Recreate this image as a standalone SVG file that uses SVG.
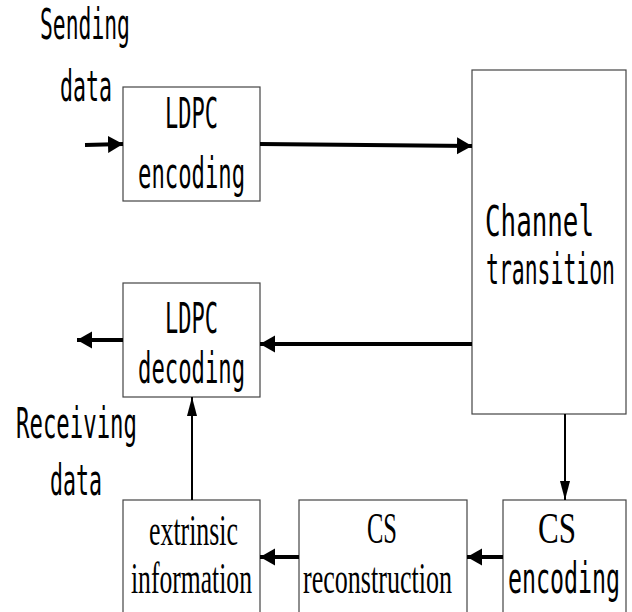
<svg xmlns="http://www.w3.org/2000/svg" width="632" height="612" viewBox="0 0 632 612">
<style>
.box{fill:#fff;stroke:#444;stroke-width:1.2}
.mono{font-family:"DejaVu Sans Mono","Liberation Mono",monospace;font-size:43px;fill:#000}
.serif{font-family:"Liberation Serif","Times New Roman",serif;font-size:45px;fill:#000}
.thick{stroke:#000;stroke-width:3.8;fill:none}
.thin{stroke:#000;stroke-width:2;fill:none}
</style>
<defs>
<marker id="ah" markerUnits="userSpaceOnUse" markerWidth="16" markerHeight="18" refX="15" refY="8.5" orient="auto">
<path d="M0,0 L15,8.5 L0,17 Z" fill="#000"/>
</marker>
<marker id="av" markerUnits="userSpaceOnUse" markerWidth="20" markerHeight="10" refX="19" refY="5" orient="auto">
<path d="M0,0 L19,5 L0,10 Z" fill="#000"/>
</marker>
</defs>
<rect width="632" height="612" fill="#fff"/>
<g id="label-sending">
<text class="mono" transform="translate(40,39) scale(0.52,1)" textLength="173" lengthAdjust="spacingAndGlyphs">Sending</text>
<text class="mono" transform="translate(60,101) scale(0.52,1)" textLength="100" lengthAdjust="spacingAndGlyphs">data</text>
</g>
<g id="label-receiving">
<text class="mono" transform="translate(16,438) scale(0.52,1)" textLength="232.7" lengthAdjust="spacingAndGlyphs">Receiving</text>
<text class="mono" transform="translate(50,495) scale(0.52,1)" textLength="100" lengthAdjust="spacingAndGlyphs">data</text>
</g>
<g id="ldpc-encoding">
<rect class="box" x="123" y="87" width="137" height="114"/>
<text class="mono" transform="translate(165,128) scale(0.52,1)" textLength="101.9" lengthAdjust="spacingAndGlyphs">LDPC</text>
<text class="mono" transform="translate(138,188) scale(0.52,1)" textLength="205.8" lengthAdjust="spacingAndGlyphs">encoding</text>
</g>
<g id="channel-transition">
<rect class="box" x="472" y="70" width="154" height="344"/>
<text class="mono" transform="translate(485,236) scale(0.52,1)" textLength="209.6" lengthAdjust="spacingAndGlyphs">Channel</text>
<text class="mono" transform="translate(486,284) scale(0.52,1)" textLength="248.1" lengthAdjust="spacingAndGlyphs">transition</text>
</g>
<g id="ldpc-decoding">
<rect class="box" x="123" y="283" width="137" height="114"/>
<text class="mono" transform="translate(165,333) scale(0.52,1)" textLength="101.9" lengthAdjust="spacingAndGlyphs">LDPC</text>
<text class="mono" transform="translate(138,383) scale(0.52,1)" textLength="205.8" lengthAdjust="spacingAndGlyphs">decoding</text>
</g>
<g id="extrinsic-information">
<rect class="box" x="123" y="500" width="137" height="130"/>
<text class="serif" transform="translate(149,545) scale(0.58,1)" textLength="153.4" lengthAdjust="spacingAndGlyphs">extrinsic</text>
<text class="serif" transform="translate(131,593) scale(0.58,1)" textLength="208.6" lengthAdjust="spacingAndGlyphs">information</text>
</g>
<g id="cs-reconstruction">
<rect class="box" x="299" y="500" width="168" height="130"/>
<text class="serif" transform="translate(367,543) scale(0.58,1)" textLength="51.7" lengthAdjust="spacingAndGlyphs">CS</text>
<text class="serif" transform="translate(303,593) scale(0.58,1)" textLength="256.9" lengthAdjust="spacingAndGlyphs">reconstruction</text>
</g>
<g id="cs-encoding">
<rect class="box" x="503" y="500" width="123" height="130"/>
<text class="serif" transform="translate(538,543) scale(0.58,1)" textLength="65.5" lengthAdjust="spacingAndGlyphs">CS</text>
<text class="mono" transform="translate(508,593) scale(0.52,1)" textLength="215.4" lengthAdjust="spacingAndGlyphs">encoding</text>
</g>
<g id="connectors">
<line class="thick" x1="85" y1="145" x2="123" y2="144" marker-end="url(#ah)"/>
<line class="thick" x1="260" y1="144" x2="472" y2="146" marker-end="url(#ah)"/>
<line class="thick" x1="472" y1="344" x2="260" y2="344" marker-end="url(#ah)"/>
<line class="thick" x1="123" y1="340" x2="77" y2="340" marker-end="url(#ah)"/>
<line class="thin" x1="565" y1="414" x2="565" y2="500" marker-end="url(#av)"/>
<line class="thick" x1="503" y1="557" x2="467" y2="557" marker-end="url(#ah)"/>
<line class="thick" x1="299" y1="557" x2="260" y2="557" marker-end="url(#ah)"/>
<line class="thin" x1="192" y1="500" x2="192" y2="397" marker-end="url(#av)"/>
</g>
</svg>
